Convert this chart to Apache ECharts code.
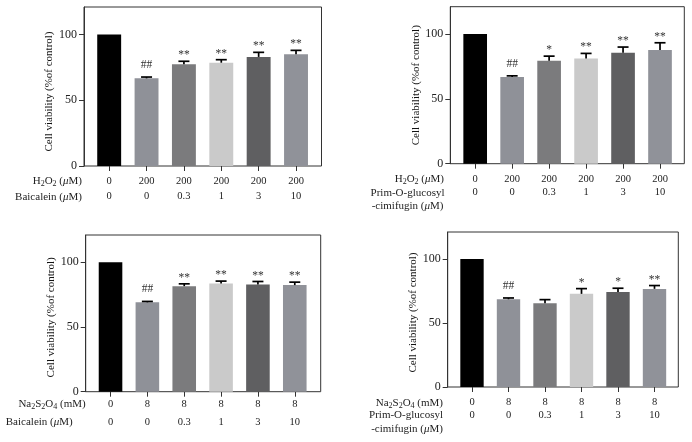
<!DOCTYPE html>
<html><head><meta charset="utf-8">
<script src="https://cdn.jsdelivr.net/npm/echarts@6/dist/echarts.min.js"></script>
<style>html,body{margin:0;padding:0;background:#fff}#c{width:692px;height:442px}</style>
</head><body><div id="c"></div>
<script>
// ---------- data ----------
const h2o2Row = ['0', '200', '200', '200', '200', '200'];
const na2s2o4Row = ['0', '8', '8', '8', '8', '8'];
const doseRow = ['0', '0', '0.3', '1', '3', '10'];

const baicaleinH2O2Values = [100, 66.7, 77.4, 78.6, 83.0, 85.0];
const baicaleinH2O2Errors = [0, 1.0, 2.3, 2.3, 3.5, 3.0];
const baicaleinH2O2Sig = ['', '##', '**', '**', '**', '**'];

const primH2O2Values = [100, 66.9, 79.3, 81.1, 85.5, 87.6];
const primH2O2Errors = [0, 0.8, 3.6, 3.9, 4.4, 5.6];
const primH2O2Sig = ['', '##', '*', '**', '**', '**'];

const baicaleinNaValues = [100, 69.0, 81.5, 83.6, 82.8, 82.3];
const baicaleinNaErrors = [0, 0.7, 1.8, 1.8, 2.3, 2.3];
const baicaleinNaSig = ['', '##', '**', '**', '**', '**'];

const primNaValues = [100, 68.5, 65.4, 72.7, 74.2, 76.6];
const primNaErrors = [0, 1.0, 2.8, 4.1, 2.9, 2.6];
const primNaSig = ['', '##', '', '*', '*', '**'];

const yTicks = [0, 50, 100];
const yMax = 121;
const yAxisTitle = 'Cell viability (%of control)';

const titleH2O2 = '{n|H}{s|2}{n|O}{s|2}{n| (}{i|\u03bc}{n|M)}';
const titleNa = '{n|Na}{s|2}{n|S}{s|2}{n|O}{s|4}{n| (mM)}';
const titleBaicalein = '{n|Baicalein (}{i|\u03bc}{n|M)}';
const titlePrim1 = '{n|Prim-O-glucosyl}';
const titlePrim2 = '{n|-cimifugin (}{i|\u03bc}{n|M)}';

// ---------- style / layout ----------
const FONT = '"Liberation Serif", "DejaVu Serif", serif';
const barColors = ['#000000', '#8f9198', '#7b7b7d', '#cacaca', '#5f5f61', '#909299'];
const axisColor = '#333333';
const textColor = '#222222';

const panels = [
  { values: baicaleinH2O2Values, errors: baicaleinH2O2Errors, sig: baicaleinH2O2Sig, row1: h2o2Row, row2: doseRow,
    frame: { l: 84, t: 7, r: 321.5, b: 166 }, bars: { l: 90.5, r: 314.7 },
    margin: 7, lineHeight: 15.7, nameGap: 29, namePad: 10,
    titles: [{ text: titleH2O2, x: 82, y: 181 }, { text: titleBaicalein, x: 82, y: 196.7 }] },
  { values: primH2O2Values, errors: primH2O2Errors, sig: primH2O2Sig, row1: h2o2Row, row2: doseRow,
    frame: { l: 450.3, t: 6.7, r: 684.3, b: 163.7 }, bars: { l: 456.7, r: 678.5 },
    margin: 9, lineHeight: 13.3, nameGap: 27.3, namePad: 0,
    titles: [{ text: titleH2O2, x: 444, y: 179.3 }, { text: titlePrim1, x: 444.5, y: 192.7 }, { text: titlePrim2, x: 443.5, y: 206 }] },
  { values: baicaleinNaValues, errors: baicaleinNaErrors, sig: baicaleinNaSig, row1: na2s2o4Row, row2: doseRow,
    frame: { l: 85.7, t: 235, r: 320.7, b: 391.7 }, bars: { l: 92.1, r: 313.2 },
    margin: 4, lineHeight: 17.4, nameGap: 27.4, namePad: 8,
    titles: [{ text: titleNa, x: 85.7, y: 404.3 }, { text: titleBaicalein, x: 72.7, y: 421.7 }] },
  { values: primNaValues, errors: primNaErrors, sig: primNaSig, row1: na2s2o4Row, row2: doseRow,
    frame: { l: 447.7, t: 232, r: 678.3, b: 387 }, bars: { l: 453.75, r: 672.75 },
    margin: 9.3, lineHeight: 12.8, nameGap: 26.4, namePad: 6,
    titles: [{ text: titleNa, x: 443, y: 402.7 }, { text: titlePrim1, x: 443, y: 415.3 }, { text: titlePrim2, x: 443, y: 428.7 }] }
];

const grid = [], xAxis = [], yAxis = [], series = [], graphic = [];
const richStyles = {
  n: { fontFamily: FONT, fontSize: 11, fill: textColor, color: textColor, lineHeight: 14, verticalAlign: 'middle' },
  s: { fontFamily: FONT, fontSize: 8, fill: textColor, color: textColor, verticalAlign: 'bottom', lineHeight: 6 },
  i: { fontFamily: FONT, fontSize: 11, fontStyle: 'italic', fill: textColor, color: textColor, lineHeight: 14, verticalAlign: 'middle' }
};

panels.forEach((P, p) => {
  const A = 2 * p, B = 2 * p + 1;
  const h = P.frame.b - P.frame.t;
  grid.push({ left: P.frame.l, top: P.frame.t, width: P.frame.r - P.frame.l, height: h,
    show: true, borderColor: axisColor, borderWidth: 1, backgroundColor: 'transparent' });
  grid.push({ left: P.bars.l, top: P.frame.t, width: P.bars.r - P.bars.l, height: h });

  xAxis.push({ gridIndex: A, type: 'value', min: 0, max: 1, show: false });
  xAxis.push({ gridIndex: B, type: 'category', data: P.row1.map((v, i) => v + '\n' + P.row2[i]),
    axisLine: { show: false },
    axisTick: { show: true, alignWithLabel: true, length: 5, lineStyle: { color: axisColor, width: 1 } },
    axisLabel: { interval: 0, margin: P.margin, lineHeight: P.lineHeight, fontFamily: FONT, fontSize: 10.5, color: textColor }
  });

  yAxis.push({ gridIndex: A, type: 'value', min: 0, max: yMax,
    axisLine: { show: true, lineStyle: { color: axisColor, width: 1 } },
    axisTick: { show: true, length: 5, customValues: yTicks, lineStyle: { color: axisColor } },
    axisLabel: { customValues: yTicks, margin: 7, fontFamily: FONT, fontSize: 12, color: textColor },
    splitLine: { show: false },
    name: yAxisTitle, nameLocation: 'middle', nameRotate: 90, nameGap: P.nameGap,
    nameTextStyle: { fontFamily: FONT, fontSize: 11, color: '#111', padding: [0, P.namePad, 0, 0] }
  });
  yAxis.push({ gridIndex: B, type: 'value', min: 0, max: yMax, show: false });

  series.push({ type: 'bar', xAxisIndex: B, yAxisIndex: B, data: P.values, barCategoryGap: '36%',
    itemStyle: { color: (prm) => barColors[prm.dataIndex] }, silent: true, animation: false });

  series.push({ type: 'custom', xAxisIndex: B, yAxisIndex: B, z: 5, animation: false, silent: true,
    data: P.values.map((v, i) => [i, v, P.errors[i]]),
    renderItem: (params, api) => {
      const i = api.value(0), v = api.value(1), e = api.value(2);
      const sig = P.sig[params.dataIndex];
      const top = api.coord([i, v + e]);
      const base = api.coord([i, v]);
      const children = [];
      if (e > 0) {
        children.push({ type: 'line', shape: { x1: top[0], y1: base[1], x2: top[0], y2: top[1] }, style: { stroke: '#000', lineWidth: 1.7 } });
        children.push({ type: 'line', shape: { x1: top[0] - 5.5, y1: top[1], x2: top[0] + 5.5, y2: top[1] }, style: { stroke: '#000', lineWidth: 1.7 } });
      }
      if (sig) {
        children.push({ type: 'text', x: top[0], y: top[1] - (sig[0] === '#' ? 6 : 0),
          style: { text: sig, align: 'center', verticalAlign: 'bottom', fill: '#333', fontSize: 11.5, fontFamily: FONT } });
      }
      return { type: 'group', children };
    }
  });

  P.titles.forEach(t => {
    graphic.push({ type: 'text', x: t.x, y: t.y, silent: true,
      style: { text: t.text, align: 'right', verticalAlign: 'middle', fontFamily: FONT, fontSize: 11, fill: textColor, rich: richStyles } });
  });
});

const chart = echarts.init(document.getElementById('c'), null, { renderer: 'canvas' });
chart.setOption({ backgroundColor: '#fff', animation: false, grid, xAxis, yAxis, series, graphic });
</script></body></html>
